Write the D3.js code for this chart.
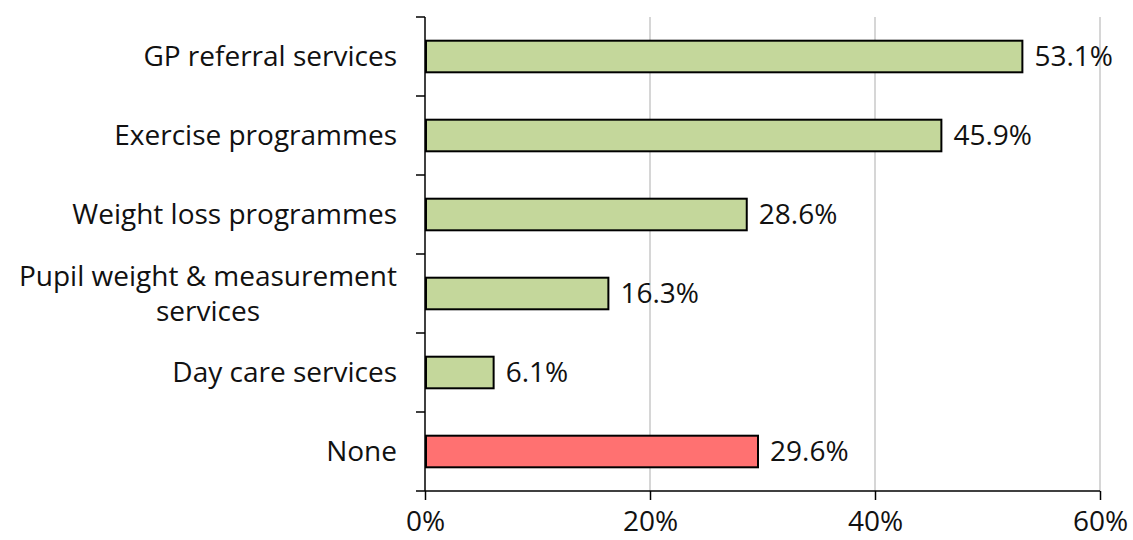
<!DOCTYPE html>
<html>
<head>
<meta charset="utf-8">
<script src="https://cdn.jsdelivr.net/npm/d3@7"></script>
<style>
  html, body { margin: 0; padding: 0; background: #fff; }
  svg { display: block; }
  text { font-family: "Open Sans", "DejaVu Sans", sans-serif; fill: #111; }
</style>
</head>
<body>
<svg id="chart" width="1133" height="540"></svg>
<script>
// Services offered (share of respondents)
const categories = [
  "GP referral services",
  "Exercise programmes",
  "Weight loss programmes",
  "Pupil weight & measurement services",
  "Day care services",
  "None"
];
const values = [53.1, 45.9, 28.6, 16.3, 6.1, 29.6];
const labelLines = [
  ["GP referral services"],
  ["Exercise programmes"],
  ["Weight loss programmes"],
  ["Pupil weight & measurement", "services"],
  ["Day care services"],
  ["None"]
];
const xTicks = [0, 20, 40, 60];
const xTickLabels = ["0%", "20%", "40%", "60%"];

const margin = { top: 17, right: 33, bottom: 49, left: 425 };
const width = 1133, height = 540;
const svg = d3.select("#chart");

const x = d3.scaleLinear()
  .domain([0, 60])
  .range([margin.left, width - margin.right]);

const y = d3.scaleBand()
  .domain(categories)
  .range([margin.top, height - margin.bottom])
  .paddingInner(0.6)
  .paddingOuter(0.3);

const fontSize = 28;

// vertical gridlines
svg.append("g")
  .selectAll("line")
  .data(xTicks.filter(d => d > 0))
  .join("line")
  .attr("x1", d => x(d)).attr("x2", d => x(d))
  .attr("y1", margin.top).attr("y2", height - margin.bottom)
  .attr("stroke", "#c8c8c8")
  .attr("stroke-width", 1.5);

// bars
svg.append("g")
  .selectAll("rect")
  .data(categories)
  .join("rect")
  .attr("x", x(0) + 1)
  .attr("y", d => y(d))
  .attr("width", (d, i) => x(values[i]) - x(0) - 1)
  .attr("height", y.bandwidth())
  .attr("fill", d => d === "None" ? "#ff7171" : "#c4d79b")
  .attr("stroke", "#000")
  .attr("stroke-width", 2);

// value labels
svg.append("g")
  .selectAll("text")
  .data(categories)
  .join("text")
  .attr("x", (d, i) => x(values[i]) + 12)
  .attr("y", d => y(d) + y.bandwidth() / 2)
  .attr("dy", "0.35em")
  .attr("font-size", fontSize)
  .text((d, i) => values[i].toFixed(1) + "%");

// x axis
const xAxis = d3.axisBottom(x)
  .tickValues(xTicks)
  .tickFormat((d, i) => xTickLabels[i])
  .tickSize(9)
  .tickPadding(12);
const gx = svg.append("g")
  .attr("transform", `translate(0,${height - margin.bottom})`)
  .call(xAxis);
gx.select(".domain").attr("stroke", "#000").attr("stroke-width", 1.5)
  .attr("d", `M${x(0)},0H${x(60)}`);
gx.selectAll(".tick line").attr("stroke", "#000").attr("stroke-width", 1.5);
gx.selectAll(".tick text")
  .attr("font-size", fontSize)
  .attr("font-family", '"Open Sans", "DejaVu Sans", sans-serif')
  .attr("fill", "#111")
  .attr("y", 40)
  .attr("dy", null);

// y axis line with ticks at category boundaries
const gy = svg.append("g");
gy.append("line")
  .attr("x1", x(0)).attr("x2", x(0))
  .attr("y1", margin.top).attr("y2", height - margin.bottom)
  .attr("stroke", "#000").attr("stroke-width", 1.5);
const boundaries = d3.range(categories.length + 1).map(i => margin.top + i * (height - margin.top - margin.bottom) / categories.length);
gy.selectAll("line.tick")
  .data(boundaries)
  .join("line")
  .attr("class", "tick")
  .attr("x1", x(0) - 9).attr("x2", x(0))
  .attr("y1", d => d).attr("y2", d => d)
  .attr("stroke", "#000").attr("stroke-width", 1.5);

// category labels
const lineH = 35;
gy.selectAll("text")
  .data(categories)
  .join("text")
  .attr("text-anchor", "middle")
  .attr("font-size", fontSize)
  .each(function(d, i) {
    const lines = labelLines[i];
    const cy = y(d) + y.bandwidth() / 2;
    const t = d3.select(this);
    const start = cy - (lines.length - 1) * lineH / 2;
    lines.forEach((ln, j) => {
      t.append("tspan")
        .attr("x", 0)
        .attr("y", start + j * lineH)
        .attr("dy", "0.35em")
        .text(ln);
    });
  });

// right-align the block of each label so its widest line ends left of the axis
gy.selectAll("text").each(function() {
  const bb = this.getBBox();
  const right = x(0) - 28;
  d3.select(this).attr("transform", `translate(${right - bb.width / 2},0)`);
});
</script>
</body>
</html>
